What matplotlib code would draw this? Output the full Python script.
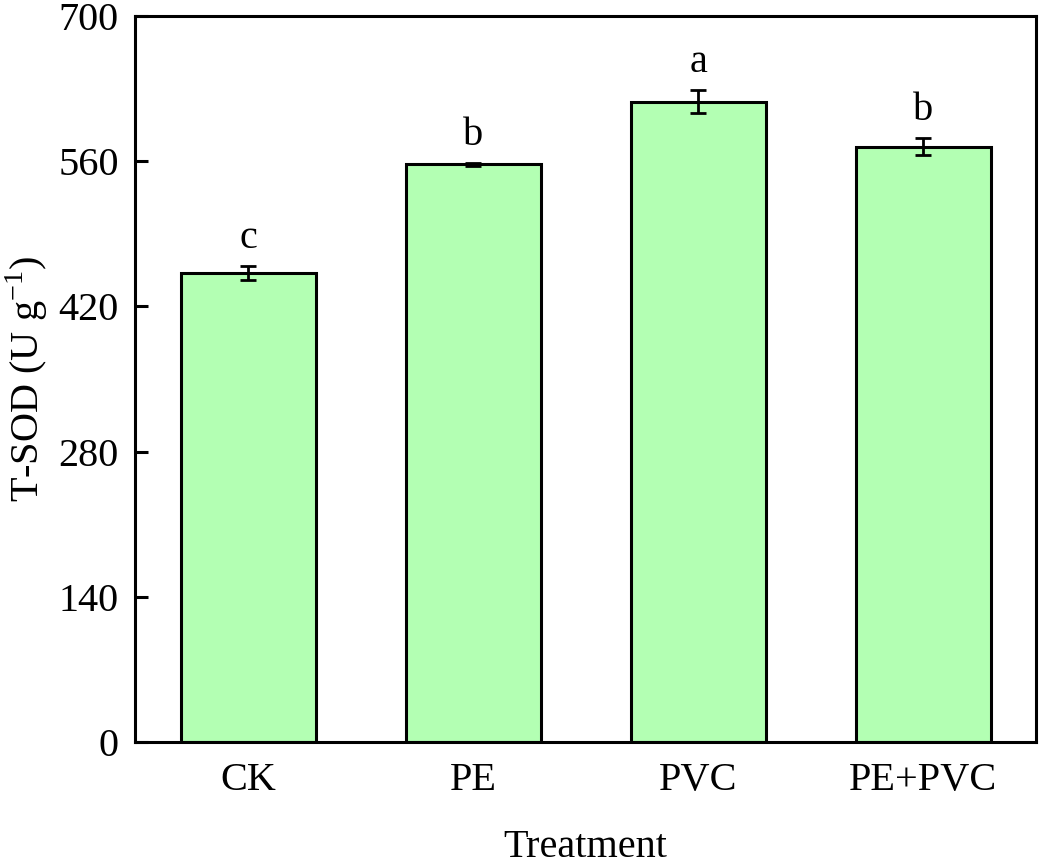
import matplotlib
matplotlib.use("Agg")
import matplotlib.pyplot as plt

categories = ["CK", "PE", "PVC", "PE+PVC"]
means = [452, 557, 617, 574]
errors = [7, 1.5, 11, 8.5]
letters = ["c", "b", "a", "b"]
yticks = [0, 140, 280, 420, 560, 700]

plt.rcParams['font.family'] = ['Liberation Serif', 'DejaVu Serif']
plt.rcParams['mathtext.fontset'] = 'custom'
plt.rcParams['mathtext.rm'] = 'Liberation Serif'

fig = plt.figure(figsize=(10.39, 8.64), dpi=100)
ax = fig.add_axes([0.1304, 0.1409, 0.8667, 0.8409])

x = list(range(len(categories)))
ax.bar(x, means, width=0.6, color='#b3ffb3', edgecolor='black', linewidth=2.2, zorder=2)
ax.errorbar(x, means, yerr=errors, fmt='none', ecolor='black', elinewidth=2,
            capsize=6, capthick=2, zorder=3)
for xi, m, e, l in zip(x, means, errors, letters):
    ax.annotate(l, (xi, m + e), xytext=(0, 13), textcoords='offset points',
                ha='center', va='baseline', fontsize=29)

ax.set_xlim(-0.5, 3.5)
ax.set_ylim(0, 700)
ax.set_yticks(yticks)
ax.set_xticks(x)
ax.set_xticklabels(categories)
ax.tick_params(axis='y', direction='in', length=9.5, width=2.2, labelsize=29, pad=12)
ax.tick_params(axis='x', length=0, labelsize=29, pad=14)
for s in ax.spines.values():
    s.set_linewidth(2.2)

ax.set_xlabel("Treatment", fontsize=29, labelpad=22)
ax.set_ylabel("T-SOD (U g$^{-1}$)", fontsize=29, labelpad=6)

fig.savefig("out.png", dpi=100)
